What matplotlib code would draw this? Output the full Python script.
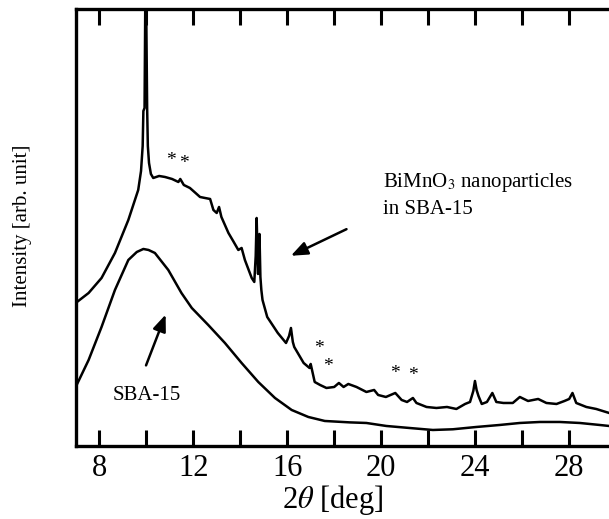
import numpy as np
import matplotlib.pyplot as plt

plt.rcParams['font.family'] = ['Liberation Serif', 'DejaVu Serif']
plt.rcParams['mathtext.fontset'] = 'stix'

# BiMnO3 nanoparticles in SBA-15 (upper trace)
bmo_2theta = [7.0, 7.55, 8.1, 8.67, 9.24, 9.66, 9.78, 9.85, 9.88, 9.93, 9.96, 10.0,
              10.04, 10.07, 10.12, 10.2, 10.3, 10.55, 10.8, 11.1, 11.37, 11.45, 11.6,
              11.86, 12.1, 12.29, 12.5, 12.72, 12.86, 13.0, 13.1, 13.2, 13.5, 13.7,
              13.92, 14.06, 14.2, 14.49, 14.6, 14.66, 14.7, 14.76, 14.82, 14.86,
              14.9, 14.95, 15.15, 15.6, 15.95, 16.08, 16.16, 16.24, 16.3, 16.7, 16.95,
              17.0, 17.17, 17.4, 17.67, 18.0, 18.2, 18.4, 18.6, 18.95, 19.37, 19.7,
              19.87, 20.2, 20.6, 20.87, 21.1, 21.35, 21.5, 21.93, 22.35, 22.8, 23.2,
              23.57, 23.78, 23.92, 23.99, 24.06, 24.14, 24.28, 24.5, 24.73, 24.9,
              25.2, 25.6, 25.9, 26.25, 26.68, 27.03, 27.46, 27.8, 28.0, 28.14, 28.3,
              28.73, 29.15, 29.7]
bmo_int = [143, 153, 168, 193, 226, 256, 275, 300, 335, 338, 440, 440,
           338, 300, 283, 272, 268, 270, 269, 267, 264, 267, 261,
           258, 253, 249, 248, 247, 236, 233, 239, 229, 213, 205,
           196, 198, 186, 168, 164, 190, 228, 172, 212, 169,
           156, 146, 129, 113, 103, 110, 118, 104, 99, 83, 78,
           82, 64, 61, 58, 59, 63, 59, 62, 59, 54, 56,
           51, 49, 53, 46, 44, 48, 43, 39, 38, 39, 37,
           42, 44, 55, 65, 56, 50, 42, 44, 53, 44,
           43, 43, 49, 45, 47, 43, 42, 45, 47, 53, 43,
           39, 37, 33]

# SBA-15 (lower trace)
sba_2theta = [7.0, 7.55, 8.1, 8.67, 9.24, 9.6, 9.88, 10.1, 10.37, 10.94, 11.5, 11.94,
              12.64, 13.35, 14.06, 14.77, 15.48, 16.19, 16.9, 17.6, 18.66, 19.37,
              20.22, 21.2, 22.2, 23.05, 24.05, 25.04, 25.9, 26.75, 27.6, 28.45,
              29.3, 29.7]
sba_int = [59, 86, 119, 156, 186, 194, 197, 196, 193, 176, 153, 138,
           121, 103, 83, 64, 48, 36, 29, 25, 23.6, 23,
           20, 18, 16, 16.7, 19, 21, 23, 24, 24, 23,
           21, 20]

# asterisks (impurity peaks)
star_2theta = [11.04, 11.62, 17.37, 17.75, 20.6, 21.36]
star_int = [285, 282, 97, 79, 72, 70]

x_ticks = [8, 10, 12, 14, 16, 18, 20, 22, 24, 26, 28]
x_labels = ['8', '', '12', '', '16', '', '20', '', '24', '', '28']

fig = plt.figure(figsize=(6.09, 5.19), dpi=100)
ax = fig.add_axes([0.1243, 0.1407, 0.8875, 0.842])

ax.plot(bmo_2theta, bmo_int, color='black', linewidth=1.8)
ax.plot(sba_2theta, sba_int, color='black', linewidth=1.8)

for sx, sy in zip(star_2theta, star_int):
    ax.text(sx, sy, '*', fontsize=14, ha='center', va='center')

ax.text(20.08, 259, 'BiMnO$_3$ nanoparticles', fontsize=15, va='baseline', ha='left')
ax.text(20.08, 232, 'in SBA-15', fontsize=15, va='baseline', ha='left')
ax.text(10.02, 46, 'SBA-15', fontsize=15, va='baseline', ha='center')

arrow = dict(arrowstyle='-|>,head_length=1.0,head_width=0.4', color='black', lw=1.8)
ax.annotate('', xy=(16.05, 189), xytext=(18.63, 218), arrowprops=arrow)
ax.annotate('', xy=(10.87, 134), xytext=(9.95, 78), arrowprops=arrow)

ax.set_xlim(7, 30)
ax.set_ylim(0, 437)
ax.set_xticks(x_ticks)
ax.set_xticklabels(x_labels, fontsize=22)
ax.set_yticks([])
ax.tick_params(axis='x', direction='in', length=11.5, width=2.2, top=True, pad=6)
for side in ['left', 'bottom', 'top']:
    ax.spines[side].set_linewidth(2.4)
ax.spines['right'].set_visible(False)

ax.set_xlabel('2$\\theta$ [deg]', fontsize=22)
ax.xaxis.set_label_coords(0.476, -0.085)
ax.set_ylabel('Intensity [arb. unit]', fontsize=15)
ax.yaxis.set_label_coords(-0.081, 0.503)

fig.savefig('out.png', dpi=100)
